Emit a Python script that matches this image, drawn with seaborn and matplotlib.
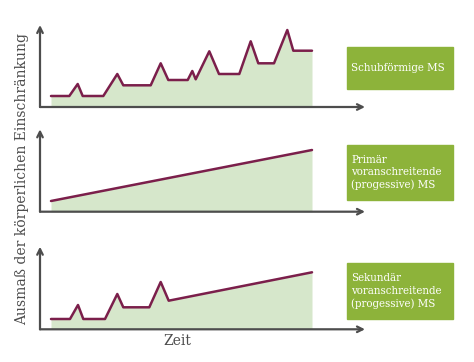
import matplotlib
matplotlib.use("Agg")
import matplotlib.pyplot as plt
import seaborn as sns
from matplotlib.patches import Rectangle

# time axis (arbitrary units) and disability level for each course
schub_x = [11, 29.3, 37.7, 42.7, 63.3, 77.3, 83.3, 110.7, 120.7, 128.3, 147.7, 152.3,
           155.7, 169.3, 179, 199.3, 210.7, 218.3, 234, 247.3, 253.3, 272]
schub_y = [11, 11, 23, 11, 11, 33, 21.7, 21.7, 43.7, 27, 27, 36,
           27.7, 55.7, 33, 33, 65.7, 43.7, 43.7, 77, 56.3, 56.3]

primaer_x = [11, 272]
primaer_y = [10.7, 61.7]

sekundaer_x = [11, 30, 38, 43.3, 65, 77.3, 83.3, 109.3, 120.7, 128.7, 272]
sekundaer_y = [10.3, 10.3, 24.3, 10.3, 10.3, 35.3, 22, 22, 47.3, 28.6, 57]

labels = ["Schubförmige MS",
          "Primär\nvoranschreitende\n(progessive) MS",
          "Sekundär\nvoranschreitende\n(progessive) MS"]

LINE = "#7b1f4b"
FILL = "#d6e7cb"
BOX = "#8db33a"
AXIS = "#4d4d4d"

sns.set_style("white")
plt.rcParams["font.family"] = ["DejaVu Serif"]

W, H = 474, 362
fig = plt.figure(figsize=(W / 100, H / 100), dpi=100)

# (baseline px, top px) of each panel, measured from the top of the image
panels = [(107, 25, schub_x, schub_y),
          (211.7, 129.3, primaer_x, primaer_y),
          (329.3, 246.7, sekundaer_x, sekundaer_y)]

for base, top, xs, ys in panels:
    ax = fig.add_axes([40 / W, (H - base) / H, 325 / W, (base - top) / H])
    ax.fill_between(xs, 0, ys, color=FILL, lw=0)
    sns.lineplot(x=xs, y=ys, ax=ax, color=LINE, lw=1.8, sort=False)
    ax.set_xlim(0, 325)
    ax.set_ylim(0, base - top)
    for s in ax.spines.values():
        s.set_visible(False)
    ax.set_xticks([])
    ax.set_yticks([])
    arrow = dict(arrowstyle="->", color=AXIS, lw=1.6, shrinkA=0, shrinkB=0,
                 mutation_scale=10)
    ax.annotate("", xy=(0, base - top), xytext=(0, 0), arrowprops=arrow,
                annotation_clip=False)
    ax.annotate("", xy=(325, 0), xytext=(0, 0), arrowprops=arrow,
                annotation_clip=False)

# legend boxes on the right
boxes = [(46.7, 89.3), (145, 200), (263, 319)]
for (y0, y1), txt in zip(boxes, labels):
    fig.patches.append(Rectangle((347 / W, (H - y1) / H), 106 / W, (y1 - y0) / H,
                                 transform=fig.transFigure, color=BOX, zorder=0))
    fig.text(351 / W, (H - (y0 + y1) / 2) / H, txt, color="white", fontsize=8.2,
             fontstretch="condensed", ha="left", va="center", linespacing=1.3)

fig.text(22 / W, (H - 179) / H, "Ausmaß der körperlichen Einschränkung",
         rotation=90, ha="center", va="center", fontsize=10, color="#4d4d4d")
fig.text(177 / W, (H - 341) / H, "Zeit", ha="center", va="center",
         fontsize=10, color="#4d4d4d")

fig.savefig("out.png", dpi=100)
